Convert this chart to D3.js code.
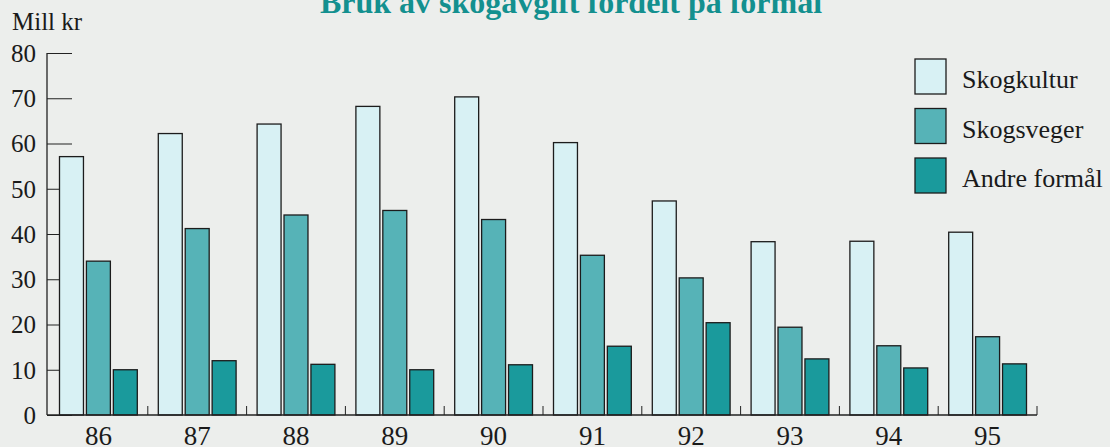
<!DOCTYPE html>
<html>
<head>
<meta charset="utf-8">
<script src="https://cdn.jsdelivr.net/npm/d3@7"></script>
<style>
  body { margin: 0; background: #eceeec; }
  svg { display: block; }
</style>
</head>
<body>
<div id="chart"></div>
<script>
// data (mill kr)
var years = ["86", "87", "88", "89", "90", "91", "92", "93", "94", "95"];
var series = ["Skogkultur", "Skogsveger", "Andre formål"];
var skogkultur = [57.1, 62.2, 64.3, 68.2, 70.3, 60.2, 47.3, 38.3, 38.4, 40.4];
var skogsveger = [34.0, 41.2, 44.2, 45.2, 43.2, 35.3, 30.3, 19.4, 15.3, 17.3];
var andre = [10.0, 12.0, 11.2, 10.0, 11.1, 15.2, 20.4, 12.4, 10.4, 11.3];
var yTicks = [0, 10, 20, 30, 40, 50, 60, 70, 80];
var colors = ["#d8f1f4", "#56b3b7", "#1a9a9c"];

var serif = "'Liberation Serif', 'Times New Roman', Times, serif";
var W = 1110, H = 447;
var svg = d3.select("#chart").append("svg")
  .attr("width", W).attr("height", H)
  .attr("font-family", serif);

var data = years.map(function(y, i) {
  return {year: y, values: [skogkultur[i], skogsveger[i], andre[i]]};
});

// scales
var x = d3.scaleBand().domain(years).range([49, 1037]).padding(0);
var xSub = d3.scaleBand().domain(series)
  .range([10.5, x.bandwidth() - 10.5])
  .paddingInner(0.11);
var y = d3.scaleLinear().domain([0, 80]).range([415, 53]);
var color = d3.scaleOrdinal().domain(series).range(colors);

// title (cut off at the top in the original)
svg.append("text")
  .attr("x", 571).attr("y", 13)
  .attr("text-anchor", "middle")
  .style("font-family", serif)
  .style("font-size", "32px")
  .style("font-weight", "bold")
  .style("fill", "#13908f")
  .text("Bruk av skogavgift fordelt på formål");

svg.append("text")
  .attr("x", 12).attr("y", 30)
  .style("font-family", serif)
  .style("font-size", "25px")
  .style("fill", "#1a1a1a")
  .text("Mill kr");

// Y axis, ticks pointing inward
var yAxis = svg.append("g")
  .attr("transform", "translate(47,0)")
  .call(d3.axisRight(y).tickValues(yTicks).tickSize(25).tickFormat(""));
yAxis.select(".domain").attr("d", "M0," + y(80) + "V" + y(0));
yAxis.selectAll("line").attr("stroke", "#222");
yAxis.select(".domain").attr("stroke", "#222").attr("stroke-width", 1.3);

svg.append("g").selectAll("text")
  .data(yTicks).enter().append("text")
  .attr("x", 36)
  .attr("y", function(d) { return y(d); })
  .attr("dy", "0.35em")
  .attr("text-anchor", "end")
  .style("font-family", serif)
  .style("font-size", "25px")
  .style("fill", "#1a1a1a")
  .text(function(d) { return d; });

// bars
svg.append("g")
  .selectAll("g")
  .data(data)
  .enter()
  .append("g")
    .attr("transform", function(d) { return "translate(" + x(d.year) + ",0)"; })
  .selectAll("rect")
  .data(function(d) { return series.map(function(key, i) { return {key: key, value: d.values[i]}; }); })
  .enter().append("rect")
    .attr("x", function(d) { return xSub(d.key); })
    .attr("y", function(d) { return y(d.value); })
    .attr("width", xSub.bandwidth())
    .attr("height", function(d) { return y(0) - y(d.value); })
    .attr("fill", function(d) { return color(d.key); })
    .attr("stroke", "#1c1c1c")
    .attr("stroke-width", 1.3);

// X axis: small upward ticks between groups
var xAxis = svg.append("g").attr("transform", "translate(0," + y(0) + ")");
xAxis.append("line")
  .attr("x1", 47).attr("x2", x.range()[1])
  .attr("stroke", "#222").attr("stroke-width", 1.3);
xAxis.selectAll(".tick")
  .data(years).enter().append("line")
  .attr("x1", function(d) { return x(d) + x.bandwidth(); })
  .attr("x2", function(d) { return x(d) + x.bandwidth(); })
  .attr("y1", 0).attr("y2", -9)
  .attr("stroke", "#222");
xAxis.selectAll("text")
  .data(years).enter().append("text")
  .attr("x", function(d) { return x(d) + x.bandwidth() / 2; })
  .attr("y", 30)
  .attr("text-anchor", "middle")
  .style("font-family", serif)
  .style("font-size", "27px")
  .style("fill", "#1a1a1a")
  .text(function(d) { return d; });

// legend
var legend = svg.append("g").attr("transform", "translate(915,59)");
var item = legend.selectAll("g")
  .data(series).enter().append("g")
  .attr("transform", function(d, i) { return "translate(0," + (i * 49.5) + ")"; });
item.append("rect")
  .attr("width", 31).attr("height", 35)
  .attr("fill", function(d) { return color(d); })
  .attr("stroke", "#1c1c1c").attr("stroke-width", 1.3);
item.append("text")
  .attr("x", 47).attr("y", 29)
  .style("font-family", serif)
  .style("font-size", "26px")
  .style("fill", "#1a1a1a")
  .text(function(d) { return d; });
</script>
</body>
</html>
